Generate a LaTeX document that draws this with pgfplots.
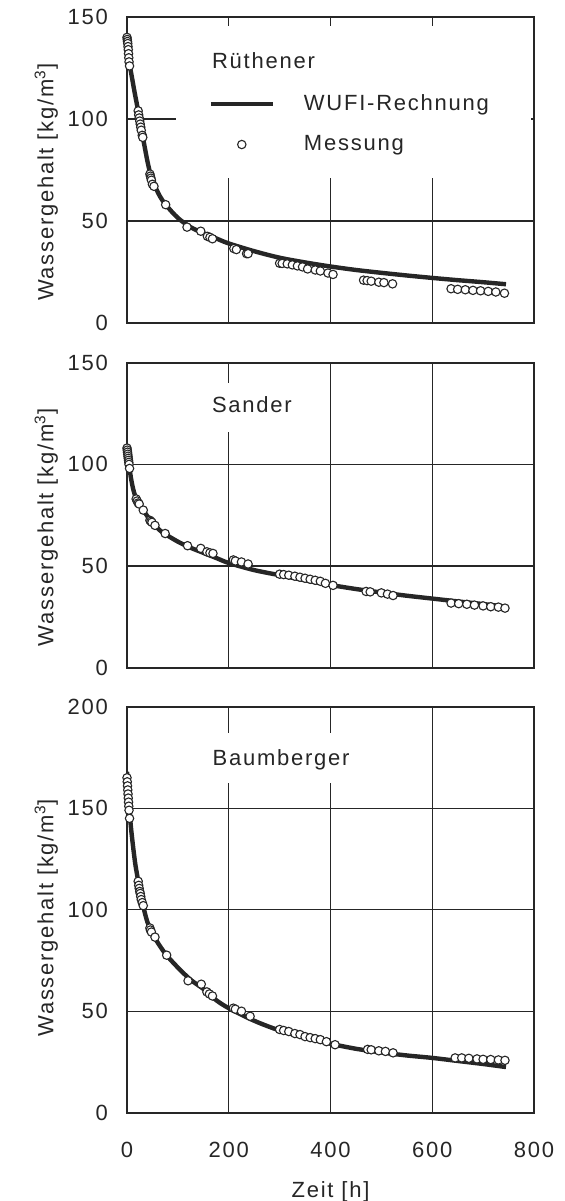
\documentclass[border=0pt]{standalone}
\usepackage{fontspec}
\setmainfont{Liberation Sans}[LetterSpace=8]
\usepackage{pgfplots}
\pgfplotsset{compat=1.18}
\newcommand{\myfont}{\fontsize{11}{13}\selectfont}
\definecolor{ink}{gray}{0.15}
\pgfplotsset{
 panel/.style={
  scale only axis, width=203.5pt, xmin=0, xmax=800, xtick={0,200,...,800}, ymin=0,
  grid=major, grid style={ink, line width=0.7pt},
  axis line style={ink, line width=1pt},
  major tick style={ink, line width=0.7pt},
  tick label style={font=\myfont, text=ink},
  label style={font=\myfont, text=ink},
  /pgf/number format/assume math mode=true,
  yticklabel style={xshift=-6pt},
  ylabel={Wassergehalt [kg/m\textsuperscript{3}]},
  ylabel style={xshift=0pt, yshift=-2pt},
  anchor=north west,
 },
 curve/.style={ink, line width=2.2pt, smooth, no markers},
 meas/.style={only marks, mark=*, mark size=2.1pt, mark options={fill=white, draw=ink, line width=0.55pt}},
 curveleg/.style={legend image code/.code={\draw[##1] (0pt,0pt) -- (30.8pt,0pt); \path[draw=none] (0pt,0pt) -- (46.5pt,0pt);}},
 measleg/.style={legend image code/.code={\draw[##1] plot coordinates {(15.4pt,0pt)}; \path[draw=none] (0pt,0pt) -- (46.5pt,0pt);}},
}
\begin{document}
\begin{tikzpicture}
\useasboundingbox (-63.5pt,8.5pt) rectangle (218.5pt,-592pt);
% Panel 1: Ruethener
\begin{axis}[panel, at={(0,0)}, height=153pt, ymax=150, ytick={0,50,100,150},
  xticklabels={},
  ylabel style={at={(ticklabel cs:0.46)}},
  legend style={at={(rel axis cs:0.200,0.748)}, anchor=north west, draw=none, fill=none,
    inner sep=0pt, nodes={inner sep=0pt}, row sep=11pt, font=\myfont, text=ink},
  legend cell align=left]
\fill[white] (rel axis cs:0.12,0.475) rectangle (rel axis cs:0.993,0.972);
\addplot[curve, curveleg] coordinates {
(0,141) (1,138) (2,135.5) (3,132.5) (4,129.5) (5,127) (10,120) (15,113) (20,106.5) (25,99.5)
(30,92.5) (35,86) (40,79.5) (45,74) (50,70) (55,67) (65,62) (76,58) (100,51.5) (125,47)
(150,44) (175,41.5) (200,39) (250,35.2) (300,32) (350,29.7) (400,27.7) (450,26) (500,24.6)
(550,23.3) (600,22.1) (650,21) (700,20) (745,19)};
\addlegendentry{WUFI-Rechnung}
\addplot[meas, measleg] coordinates {
(0,140) (0.5,139) (1,138) (1.5,137) (2,135.5) (2.5,134) (3,132) (3.5,130) (4,128) (5,126)
(22,104) (23,102) (24,100.5) (25,99) (26,97.5) (27,96) (28,94.5) (30,92) (31,91)
(45,73) (46,72) (47,71) (48,70) (50,68) (53,67)
(76,58) (118,47) (145,45) (158,42.5) (163,42) (168,41.3) (210,36.5) (215,36) (235,34) (238,34)
(300,29.3) (305,29.2) (315,29) (325,28.5) (335,28) (345,27.5) (355,26.5) (370,26) (380,25.5) (395,24.5) (405,23.8)
(465,21) (472,20.8) (480,20.5) (495,20) (505,19.8) (522,19.2)
(637,16.8) (650,16.5) (665,16.3) (680,16) (695,15.8) (710,15.5) (725,15.2) (742,14.6)};
\addlegendentry{Messung}
\node[anchor=base west, inner sep=0pt, font=\myfont, text=ink] at (rel axis cs:0.208,0.831) {Rüthener};
\end{axis}
% Panel 2: Sander
\begin{axis}[panel, at={(0,-172.85pt)}, height=152.5pt, ymax=150, ytick={0,50,100,150},
  xticklabels={},
  ylabel style={at={(ticklabel cs:0.46)}}]
\addplot[curve] coordinates {
(0,110) (1,107) (2,104.5) (3,102) (4,100) (5,98) (8,93) (12,88) (16,84.5) (20,82) (25,80)
(32,77.5) (40,74.5) (48,72) (55,70) (65,67.5) (75,65.7) (100,62) (125,59) (150,56.5) (175,54)
(200,51.5) (250,48) (300,45.5) (350,43) (400,40.7) (450,38.7) (500,37) (550,35.4) (600,34)
(650,32.6) (700,31.3) (745,30)};
\addplot[meas] coordinates {
(0,108) (0.5,107) (1,106) (1.5,105) (2,104) (2.5,103) (3,102) (3.5,101) (4,100) (5,98)
(18,83) (20,82) (22,81) (24,80.5) (32,77.5) (45,72.5) (47,72) (49,71.5) (55,70) (75,66)
(119,60) (145,58.7) (157,57) (163,56.5) (169,56.2) (209,53) (213,52.5) (225,52) (238,51)
(300,46) (308,45.8) (318,45.5) (330,45) (340,44.5) (350,44) (360,43.5) (370,43) (380,42.5) (390,41.5) (405,40.5)
(470,37.5) (478,37.3) (500,36.8) (512,36.2) (523,35.5)
(637,31.8) (652,31.5) (668,31.2) (683,30.8) (700,30.4) (715,30) (730,29.8) (743,29.3)};
\node[anchor=base west, fill=white, inner xsep=7pt, inner ysep=7pt, text height=7.7pt, text depth=2.8pt, font=\myfont, text=ink] at (rel axis cs:0.1736,0.837) {Sander};
\end{axis}
% Panel 3: Baumberger
\begin{axis}[panel, at={(0,-344.85pt)}, height=203pt, ymax=200, ytick={0,50,100,150,200},
  xticklabel style={yshift=-11pt},
  xlabel={Zeit [h]},
  xlabel style={yshift=-5pt},
  ylabel style={at={(ticklabel cs:0.48)}}]
\addplot[curve] coordinates {
(0,168) (1,164) (2,160) (3,156) (4,152) (5,148.5) (8,140) (12,131) (16,123) (20,117) (25,110)
(30,104) (35,98.5) (40,94) (45,91) (50,88.5) (55,86) (65,82) (78,77.5) (100,71.5) (125,65.5)
(150,61) (175,55.5) (200,51.5) (250,45.3) (300,40.5) (350,37) (400,34) (450,31.5) (500,29.7)
(550,28.2) (600,27) (650,25.5) (700,24) (745,22.5)};
\addplot[meas] coordinates {
(0,165) (0.5,163) (1,161) (1.5,159) (2,157) (2.5,155) (3,153) (3.5,151) (4,149) (5,145)
(22,114) (23,112) (24,110.5) (25,109) (26,108) (27,106.5) (28,105) (30,103.5) (32,102)
(45,91) (46,90) (48,89) (55,86.5) (78,77.6) (120,65) (146,63.3) (157,59.5) (162,58.5) (168,57.5)
(209,51.5) (213,51) (225,50) (242,47.5)
(300,41) (308,40.5) (318,40) (330,39) (340,38.5) (350,37.5) (360,37) (370,36.5) (380,36) (392,35) (409,33.5)
(473,31.2) (480,31) (495,30.5) (508,30.2) (523,29.5)
(645,27) (658,27) (672,26.8) (688,26.5) (700,26.3) (715,26.2) (730,26) (743,25.8)};
\node[anchor=base west, fill=white, inner xsep=7pt, inner ysep=7pt, text height=9pt, text depth=2pt, font=\myfont, text=ink] at (rel axis cs:0.175,0.856) {Baumberger};
\end{axis}
\end{tikzpicture}
\end{document}
